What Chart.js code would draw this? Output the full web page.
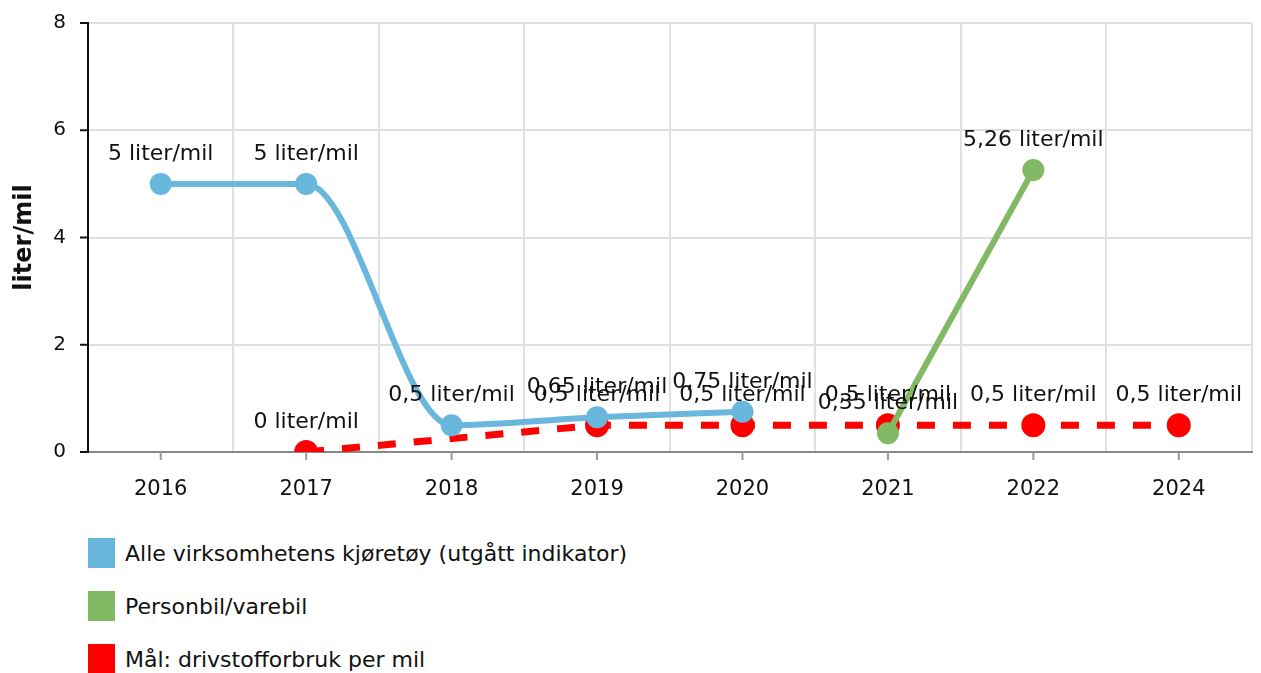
<!DOCTYPE html>
<html>
<head>
<meta charset="utf-8">
<script src="https://cdn.jsdelivr.net/npm/chart.js@4"></script>
<style>
  html, body { margin: 0; background: #fff; overflow: hidden; font-family: "DejaVu Sans", Verdana, sans-serif; }
  #wrap { position: relative; width: 1267px; height: 502px; }
  #legend { margin: 36px 0 0 88px; }
  .item { display: flex; align-items: center; height: 30px; margin-bottom: 23px; font-size: 22px; color: #111; }
  .item:last-child { margin-bottom: 0; }
  .box { width: 27px; height: 30px; margin-right: 10px; }
</style>
</head>
<body>
<div id="wrap"><canvas id="lineChart"></canvas></div>
<div id="legend"></div>
<script>
const years = ['2016', '2017', '2018', '2019', '2020', '2021', '2022', '2024'];
const alleKjoretoy = [5, 5, 0.5, 0.65, 0.75, null, null, null];
const personbil = [null, null, null, null, null, 0.35, 5.26, null];
const maal = [null, 0, null, 0.5, 0.5, 0.5, 0.5, 0.5];
const yTicks = [0, 2, 4, 6, 8];

const font = "DejaVu Sans";

// value labels above each point, and tick marks
const extras = {
    id: 'extras',
    afterDraw(chart) {
        const ctx = chart.ctx;
        const x = chart.scales.x, y = chart.scales.y;
        ctx.save();
        ctx.lineWidth = 2;
        ctx.strokeStyle = '#111';
        y.ticks.forEach((t, i) => {
            const py = y.getPixelForTick(i);
            ctx.beginPath();
            ctx.moveTo(x.left - 8, py);
            ctx.lineTo(x.left, py);
            ctx.stroke();
        });
        ctx.strokeStyle = '#999';
        x.ticks.forEach((t, i) => {
            const px = x.getPixelForTick(i);
            ctx.beginPath();
            ctx.moveTo(px, y.bottom);
            ctx.lineTo(px, y.bottom + 8);
            ctx.stroke();
        });
        ctx.font = '22px "' + font + '"';
        ctx.fillStyle = '#111';
        ctx.textAlign = 'center';
        ctx.textBaseline = 'middle';
        chart.data.datasets.forEach((ds, di) => {
            const meta = chart.getDatasetMeta(di);
            meta.data.forEach((pt, i) => {
                const v = ds.data[i];
                if (v === null) return;
                const txt = String(v).replace('.', ',') + ' liter/mil';
                ctx.fillText(txt, pt.x, pt.y - 30);
            });
        });
        ctx.restore();
    }
};

const ctx = document.getElementById('lineChart').getContext('2d');
const lineChart = new Chart(ctx, {
    type: 'line',
    data: {
        labels: years,
        datasets: [{
            label: 'Alle virksomhetens kjøretøy (utgått indikator)',
            data: alleKjoretoy,
            borderColor: '#69b7dc',
            backgroundColor: '#69b7dc',
            borderWidth: 6,
            cubicInterpolationMode: 'monotone',
            tension: 0.4,
            pointRadius: 8,
            pointHoverRadius: 8,
            spanGaps: false
        }, {
            label: 'Personbil/varebil',
            data: personbil,
            borderColor: '#82b964',
            backgroundColor: '#82b964',
            borderWidth: 6,
            tension: 0,
            pointRadius: 8,
            pointHoverRadius: 8
        }, {
            label: 'Mål: drivstofforbruk per mil',
            data: maal,
            borderColor: '#ff0000',
            backgroundColor: '#ff0000',
            borderWidth: 7,
            borderDash: [18, 18],
            tension: 0,
            pointRadius: 8.5,
            pointHoverRadius: 8.5,
            spanGaps: true
        }]
    },
    options: {
        responsive: true,
        maintainAspectRatio: false,
        animation: false,
        layout: { padding: { top: 23, right: 9, left: 0, bottom: 0 } },
        plugins: {
            legend: { display: false },
            tooltip: { enabled: false }
        },
        scales: {
            x: {
                offset: true,
                grid: { offset: true, color: '#e0e0e0', lineWidth: 2, drawTicks: false },
                border: { color: '#888', width: 2 },
                ticks: { color: '#111', font: { family: font, size: 21 }, padding: 25 },
                afterFit(scale) {
                    scale.height = 50;
                    scale.paddingLeft = 0;
                    scale.paddingRight = 0;
                }
            },
            y: {
                min: 0,
                max: 8,
                afterBuildTicks(scale) { scale.ticks = yTicks.map(v => ({ value: v })); },
                grid: { color: '#e0e0e0', lineWidth: 2, drawTicks: false },
                border: { color: '#111', width: 2 },
                ticks: { color: '#111', font: { family: font, size: 20 }, padding: 22 },
                title: {
                    display: true,
                    text: 'liter/mil',
                    color: '#111',
                    padding: { top: 10, bottom: 0 },
                    font: { family: font, size: 24, weight: 'bold' }
                },
                afterFit(scale) {
                    scale.width = 88;
                    scale.paddingTop = 0;
                    scale.paddingBottom = 0;
                }
            }
        }
    },
    plugins: [extras]
});

// HTML legend, one item per line
const legend = document.getElementById('legend');
lineChart.data.datasets.forEach(ds => {
    const item = document.createElement('div');
    item.className = 'item';
    item.innerHTML = '<span class="box" style="background:' + ds.borderColor + '"></span>' + ds.label;
    legend.appendChild(item);
});
</script>
</body>
</html>
